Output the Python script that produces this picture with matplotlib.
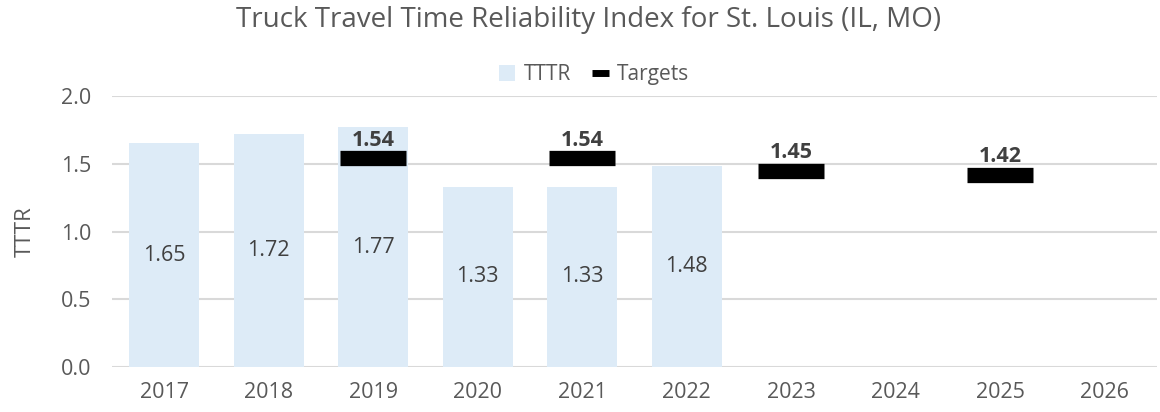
import numpy as np
import matplotlib.pyplot as plt
from matplotlib.lines import Line2D
from matplotlib.patches import Patch

years = ["2017", "2018", "2019", "2020", "2021", "2022", "2023", "2024", "2025", "2026"]
tttr = [1.65, 1.72, 1.77, 1.33, 1.33, 1.48, np.nan, np.nan, np.nan, np.nan]
targets = [np.nan, np.nan, 1.54, np.nan, 1.54, np.nan, 1.45, np.nan, 1.42, np.nan]

plt.rcParams['font.family'] = ['Open Sans', 'DejaVu Sans']
grey = '#595959'
bar_color = '#DDEBF7'

fig = plt.figure(figsize=(11.6, 4.12), dpi=100)
ax = fig.add_axes([0.0966, 0.109, 0.9008, 0.658])

x = np.arange(len(years))
heights = np.nan_to_num(tttr)
ax.bar(x, heights, width=0.67, color=bar_color, zorder=2)
for xi, v in zip(x, tttr):
    if not np.isnan(v):
        ax.text(xi, v / 2, f"{v:.2f}", ha='center', va='center', fontsize=15.5, color='#404040', zorder=4)

ax.plot(x, targets, ls='none', marker='_', ms=48, mew=11, color='black', zorder=3)
for xi, t in zip(x, targets):
    if not np.isnan(t):
        ax.annotate(f"{t:.2f}", (xi, t), xytext=(0, 5.5), textcoords='offset points',
                    ha='center', va='bottom', fontsize=15.5, fontweight='bold', color='#404040')

ax.set_xlim(-0.5, len(years) - 0.5)
ax.set_ylim(0, 2.0)
ax.set_yticks([0, 0.5, 1.0, 1.5, 2.0])
ax.set_yticklabels(["0.0", "0.5", "1.0", "1.5", "2.0"])
ax.set_xticks(x)
ax.set_xticklabels(years)
ax.tick_params(axis='both', length=0, labelsize=15.5, colors=grey)
ax.tick_params(axis='x', pad=11)
ax.tick_params(axis='y', pad=15)
ax.grid(axis='y', color='#D9D9D9', lw=1.5, zorder=0)
ax.set_axisbelow(True)
for s in ax.spines.values():
    s.set_visible(False)

ax.set_ylabel("TTTR", fontsize=16, color=grey, labelpad=18)
fig.suptitle("Truck Travel Time Reliability Index for St. Louis (IL, MO)", fontsize=20, color=grey, x=0.507, y=0.985)

handles = [Patch(facecolor=bar_color, label='TTTR'),
           Line2D([], [], color='black', lw=5, solid_capstyle='butt', label='Targets')]
fig.legend(handles=handles, loc='center', bbox_to_anchor=(0.512, 0.818), ncol=2, frameon=False,
           fontsize=15, labelcolor=grey, handlelength=0.8, handleheight=0.8, handletextpad=0.4, columnspacing=1.0)

fig.savefig("out.png", dpi=100)
